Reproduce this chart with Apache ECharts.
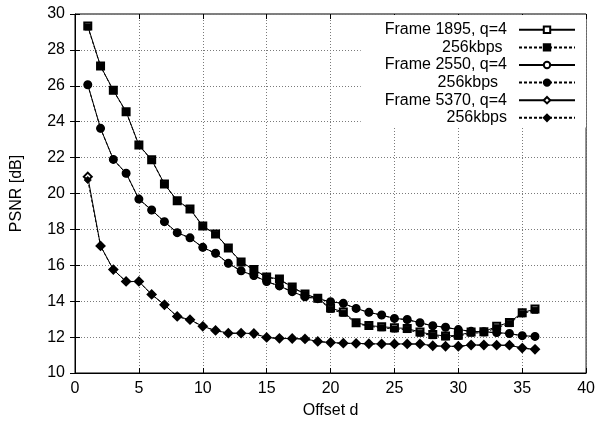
<!DOCTYPE html>
<html>
<head>
<meta charset="utf-8">
<script src="https://cdn.jsdelivr.net/npm/echarts@6/dist/echarts.min.js"></script>
<style>
  html, body { margin: 0; padding: 0; background: #fff; }
  #chart { width: 598px; height: 428px; }
</style>
</head>
<body>
<div id="chart"></div>
<script>
// PSNR versus reference offset for three frames (q=4 and 256kbps encodings)
const offsets = [1,2,3,4,5,6,7,8,9,10,11,12,13,14,15,16,17,18,19,20,21,22,23,24,25,26,27,28,29,30,31,32,33,34,35,36];

const frame1895Q4 = [29.33,27.10,25.75,24.56,22.70,21.88,20.53,19.60,19.14,18.19,17.75,16.97,16.19,15.76,15.35,15.23,14.79,14.40,14.16,13.62,13.40,12.80,12.64,12.58,12.52,12.48,12.28,12.14,12.06,12.10,12.28,12.30,12.60,12.82,13.36,13.56];
const frame1895Kbps = [29.28,27.08,25.73,24.54,22.68,21.86,20.51,19.58,19.12,18.17,17.73,16.95,16.17,15.74,15.33,15.21,14.77,14.38,14.14,13.55,13.33,12.76,12.60,12.52,12.45,12.42,12.22,12.08,12.02,12.05,12.22,12.24,12.52,12.75,13.30,13.50];

const frame2550Q4 = [26.06,23.63,21.90,21.13,19.69,19.08,18.43,17.82,17.53,17.00,16.67,16.11,15.69,15.43,15.10,14.85,14.53,14.25,14.14,13.97,13.88,13.60,13.38,13.23,13.04,12.98,12.80,12.63,12.55,12.42,12.32,12.30,12.25,12.20,12.08,12.04];
const frame2550Kbps = [26.05,23.62,21.89,21.12,19.68,19.07,18.42,17.81,17.52,16.99,16.66,16.10,15.68,15.42,15.09,14.84,14.52,14.24,14.13,13.96,13.87,13.59,13.37,13.22,13.03,12.97,12.79,12.62,12.54,12.41,12.31,12.29,12.24,12.19,12.07,12.03];

const frame5370Q4 = [20.94,17.08,15.76,15.10,15.10,14.38,13.80,13.15,12.97,12.60,12.37,12.22,12.22,12.20,11.98,11.93,11.92,11.90,11.76,11.70,11.66,11.65,11.63,11.62,11.62,11.62,11.62,11.52,11.49,11.49,11.56,11.56,11.55,11.55,11.39,11.32];
const frame5370Kbps = [20.75,17.07,15.75,15.09,15.09,14.37,13.79,13.14,12.96,12.59,12.36,12.21,12.21,12.19,11.97,11.92,11.91,11.89,11.75,11.69,11.65,11.64,11.62,11.61,11.61,11.61,11.61,11.51,11.48,11.48,11.55,11.55,11.54,11.54,11.38,11.31];

const seriesNames = ['Frame 1895, q=4', '256kbps ', 'Frame 2550, q=4', '256kbps  ', 'Frame 5370, q=4', '256kbps'];
const xTicks = [0, 5, 10, 15, 20, 25, 30, 35, 40];
const yTicks = [10, 12, 14, 16, 18, 20, 22, 24, 26, 28, 30];

const FONT = "'Liberation Sans', Arial, Helvetica, sans-serif";

function pairs(ys) {
  return offsets.map((x, i) => [x, ys[i]]);
}

function makeSeries(name, ys, symbol, size, dashed) {
  return {
    name: name,
    type: 'line',
    data: pairs(ys),
    symbol: symbol,
    symbolSize: size,
    showSymbol: true,
    animation: false,
    lineStyle: { color: '#000', width: 1, type: dashed ? [3, 2] : 'solid' },
    itemStyle: { color: '#000', borderColor: '#000', borderWidth: 1 },
    emphasis: { disabled: true }
  };
}

const chart = echarts.init(document.getElementById('chart'), null, { renderer: 'canvas' });

const gridLine = { show: true, lineStyle: { color: '#7a7a7a', width: 1, type: [1, 2] } };

chart.setOption({
  backgroundColor: '#fff',
  animation: false,
  grid: { left: 75, right: 11, top: 14, bottom: 55, show: true, borderColor: '#000', borderWidth: 1 },
  xAxis: [
    {
      type: 'value', min: xTicks[0], max: xTicks[xTicks.length - 1], interval: 5,
      name: 'Offset d', nameLocation: 'middle', nameGap: 30,
      nameTextStyle: { fontFamily: FONT, fontSize: 16, color: '#000' },
      axisLine: { show: true, lineStyle: { color: '#000', width: 1 } },
      axisTick: { show: true, inside: true, length: 5, lineStyle: { color: '#000' } },
      axisLabel: { margin: 8, fontFamily: FONT, fontSize: 16, color: '#000' },
      splitLine: gridLine
    },
    {
      type: 'value', position: 'top', min: xTicks[0], max: xTicks[xTicks.length - 1], interval: 5,
      axisLine: { show: false },
      axisTick: { show: true, inside: true, length: 5, lineStyle: { color: '#000' } },
      axisLabel: { show: false },
      splitLine: { show: false }
    }
  ],
  yAxis: [
    {
      type: 'value', min: yTicks[0], max: yTicks[yTicks.length - 1], interval: 2,
      name: 'PSNR [dB]', nameLocation: 'middle', nameGap: 50,
      nameTextStyle: { fontFamily: FONT, fontSize: 16, color: '#000' },
      axisLine: { show: true, lineStyle: { color: '#000', width: 1 } },
      axisTick: { show: true, inside: true, length: 5, lineStyle: { color: '#000' } },
      axisLabel: { margin: 10, fontFamily: FONT, fontSize: 16, color: '#000' },
      splitLine: gridLine
    },
    {
      type: 'value', position: 'right', min: yTicks[0], max: yTicks[yTicks.length - 1], interval: 2,
      axisLine: { show: false },
      axisTick: { show: true, inside: true, length: 5, lineStyle: { color: '#000' } },
      axisLabel: { show: false },
      splitLine: { show: false }
    }
  ],
  legend: {
    orient: 'vertical',
    right: 12,
    top: 15,
    align: 'right',
    itemWidth: 56,
    itemHeight: 8,
    itemGap: 0,
    padding: [6, 10, 1, 24],
    backgroundColor: '#fff',
    selectedMode: false,
    textStyle: { fontFamily: FONT, fontSize: 16, color: '#000', lineHeight: 17.6, padding: [0, 7, 0, 0] },
    data: seriesNames
  },
  series: [
    makeSeries(seriesNames[0], frame1895Q4, 'emptyRect', 7, false),
    makeSeries(seriesNames[1], frame1895Kbps, 'rect', 6, true),
    makeSeries(seriesNames[2], frame2550Q4, 'emptyCircle', 7, false),
    makeSeries(seriesNames[3], frame2550Kbps, 'circle', 7, true),
    makeSeries(seriesNames[4], frame5370Q4, 'emptyDiamond', 8, false),
    makeSeries(seriesNames[5], frame5370Kbps, 'diamond', 7, true)
  ]
});
</script>
</body>
</html>
